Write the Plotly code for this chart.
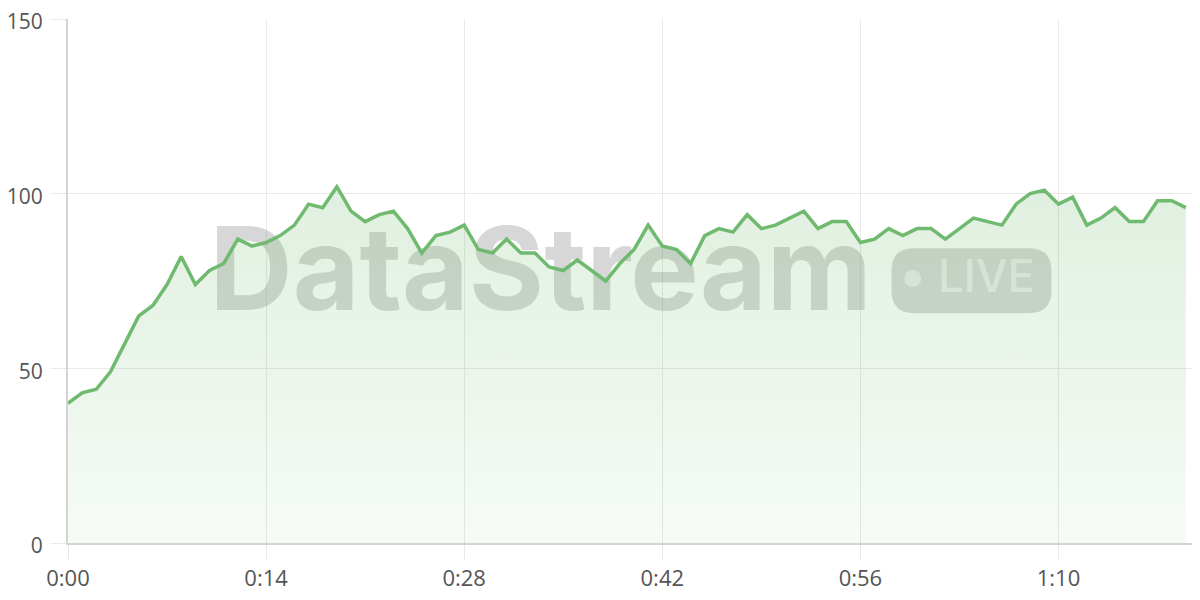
import plotly.graph_objects as go

# seconds elapsed and the live reading at each second
seconds = list(range(80))
values = [40, 43, 44, 49, 57, 65, 68, 74, 82, 74,
          78, 80, 87, 85, 86, 88, 91, 97, 96, 102,
          95, 92, 94, 95, 90, 83, 88, 89, 91, 84,
          83, 87, 83, 83, 79, 78, 81, 78, 75, 80,
          84, 91, 85, 84, 80, 88, 90, 89, 94, 90,
          91, 93, 95, 90, 92, 92, 86, 87, 90, 88,
          90, 90, 87, 90, 93, 92, 91, 97, 100, 101,
          97, 99, 91, 93, 96, 92, 92, 98, 98, 96]

tick_vals = [0, 14, 28, 42, 56, 70]
tick_text = ['0:00', '0:14', '0:28', '0:42', '0:56', '1:10']

green = 'rgb(112,186,112)'
grid = '#e9e9e9'
wm = 'rgba(110,110,110,0.28)'


def rounded_rect(x0, x1, y0, y1, rx, ry):
    return (f'M {x0 + rx},{y0} L {x1 - rx},{y0} Q {x1},{y0} {x1},{y0 + ry} '
            f'L {x1},{y1 - ry} Q {x1},{y1} {x1 - rx},{y1} '
            f'L {x0 + rx},{y1} Q {x0},{y1} {x0},{y1 - ry} '
            f'L {x0},{y0 + ry} Q {x0},{y0} {x0 + rx},{y0} Z')


fig = go.Figure()

# watermark, drawn first so the fill and line sit on top of it
fig.add_shape(type='path', layer='below',
              path=rounded_rect(58.2, 69.5, 65.8, 84.4, 1.6, 6.5),
              line=dict(width=0), fillcolor=wm)
fig.add_trace(go.Scatter(
    x=[33.4], y=[74.8], mode='text', text=['<b>DataStream</b>'],
    textfont=dict(family='Inter', size=115, color=wm),
    hoverinfo='skip', showlegend=False))
fig.add_trace(go.Scatter(
    x=[59.7], y=[75.7], mode='markers',
    marker=dict(size=17, color='rgba(255,255,255,0.5)'),
    hoverinfo='skip', showlegend=False))
fig.add_trace(go.Scatter(
    x=[64.9], y=[75.2], mode='text', text=['LIVE'],
    textfont=dict(family='Inter', size=45, weight=500,
                  color='rgba(255,255,255,0.55)'),
    hoverinfo='skip', showlegend=False))

fig.add_trace(go.Scatter(
    x=seconds, y=values, mode='lines',
    line=dict(color=green, width=3.5),
    fill='tozeroy',
    fillgradient=dict(type='vertical',
                      colorscale=[[0, 'rgba(112,186,112,0.06)'],
                                  [1, 'rgba(112,186,112,0.22)']]),
    hoverinfo='skip', showlegend=False))

fig.update_xaxes(range=[0, 80], tickvals=tick_vals, ticktext=tick_text,
                 showgrid=True, gridcolor=grid, gridwidth=1,
                 ticks='outside', ticklen=15, tickcolor=grid,
                 showline=True, linecolor='#d4d4d4', linewidth=2,
                 tickfont=dict(family='Open Sans', size=22, color='#555'),
                 ticklabeloverflow='allow',
                 zeroline=False, automargin=False, fixedrange=True)
fig.update_yaxes(range=[0, 150], tickvals=[0, 50, 100, 150],
                 showgrid=True, gridcolor=grid, gridwidth=1,
                 ticks='outside', ticklen=15, tickcolor=grid,
                 showline=True, linecolor='#d4d4d4', linewidth=2,
                 tickfont=dict(family='Open Sans', size=21, color='#555'),
                 ticklabelstandoff=4, ticklabelshift=3,
                 ticklabeloverflow='allow',
                 zeroline=False, automargin=False, fixedrange=True)

# the page body keeps its default 8px margin, so size the figure to fit
fig.update_layout(width=1192, height=592,
                  margin=dict(l=60, r=0, t=11, b=57),
                  plot_bgcolor='white', paper_bgcolor='white')

fig.write_html('out.html')
